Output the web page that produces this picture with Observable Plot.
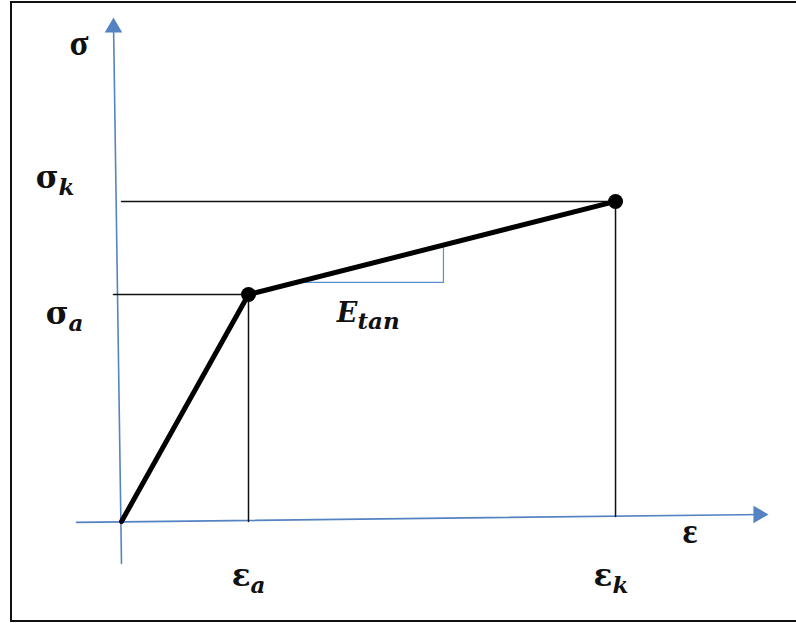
<!DOCTYPE html>
<html>
<head>
<meta charset="utf-8">
<script src="https://cdn.jsdelivr.net/npm/d3@7"></script>
<script src="https://cdn.jsdelivr.net/npm/@observablehq/plot@0.6"></script>
<style>
  html, body { margin: 0; padding: 0; background: #fff; overflow: hidden; }
  #wrap { position: relative; width: 796px; height: 623px; overflow: hidden; }
  #frame { position: absolute; left: 10px; top: 1px; width: 1000px; height: 617px; border: 2px solid #111; border-right: none; pointer-events: none; }
</style>
</head>
<body>
<div id="wrap"><div id="frame"></div></div>
<script>
// Key points of the bilinear stress-strain curve (origin, point a, point k)
const strain = [0, 1, 3.89];
const stress = [0, 1, 1.41];

// Axis lines (slightly tilted in the original drawing)
const xAxisX = [-0.354, 5.055];
const xAxisY = [-0.004, 0.031];
const yAxisX = [0, -0.063];
const yAxisY = [-0.185, 2.198];

// Tangent-slope triangle (E_tan)
const tanX = [1.37, 2.535, 2.535];
const tanY = [1.053, 1.053, 1.218];

// Labels: base text, subscript, anchor (x, y)
const labelBase = ["σ", "ε", "σ", "σ", "E", "ε", "ε"];
const labelSub  = ["", "", "k", "a", "tan", "a", "k"];
const labelX    = [-0.26, 4.535, -0.496, -0.417, 1.858, 1.016, 3.866];
const labelY    = [2.053, -0.093, 1.471, 0.872, 0.877, -0.282, -0.282];

const W = 796, H = 623;
const ox = 121, sx = 127, oy = 521, sy = 227;

const curve = strain.map((x, i) => ({x, y: stress[i]}));
const pa = curve[1], pk = curve[2];
const labels = labelBase.map((t, i) => ({t, s: labelSub[i], x: labelX[i], y: labelY[i], i}));
const plainLabels = labels.filter(d => d.s === "");
const greekSub = labels.filter(d => d.s !== "" && d.t !== "E");
const latinSub = labels.filter(d => d.t === "E");
const subLabels = labels.filter(d => d.s !== "");

const axisBlue = "#5583c2";

const chart = Plot.plot({
  width: W, height: H,
  margin: 0,
  x: {domain: [-ox / sx, (W - ox) / sx], axis: null},
  y: {domain: [(oy - H) / sy, oy / sy], axis: null},
  style: {background: "transparent"},
  marks: [
    // axes
    Plot.line(xAxisX.map((x, i) => ({x, y: xAxisY[i]})), {x: "x", y: "y", stroke: axisBlue, strokeWidth: 1.6}),
    Plot.line(yAxisX.map((x, i) => ({x, y: yAxisY[i]})), {x: "x", y: "y", stroke: axisBlue, strokeWidth: 1.6}),
    Plot.dot([{x: xAxisX[1], y: xAxisY[1]}], {x: "x", y: "y", symbol: "triangle", r: 6.5, rotate: 90, fill: axisBlue, stroke: null, dx: -5}),
    Plot.dot([{x: yAxisX[1], y: yAxisY[1]}], {x: "x", y: "y", symbol: "triangle", r: 6.5, fill: axisBlue, stroke: null, dy: 5}),
    // guide lines
    Plot.line([{x: 0, y: pk.y}, {x: pk.x, y: pk.y}], {x: "x", y: "y", stroke: "#111", strokeWidth: 1.5}),
    Plot.line([{x: yAxisX[1], y: pa.y}, {x: pa.x, y: pa.y}], {x: "x", y: "y", stroke: "#111", strokeWidth: 1.5}),
    Plot.line([{x: pa.x, y: pa.y}, {x: pa.x, y: 0}], {x: "x", y: "y", stroke: "#111", strokeWidth: 1.5}),
    Plot.line([{x: pk.x, y: pk.y}, {x: pk.x, y: 0.022}], {x: "x", y: "y", stroke: "#111", strokeWidth: 1.5}),
    // tangent triangle
    Plot.line(tanX.map((x, i) => ({x, y: tanY[i]})), {x: "x", y: "y", stroke: "#5b8fd0", strokeWidth: 1.2}),
    // stress-strain curve
    Plot.line(curve, {x: "x", y: "y", stroke: "#000", strokeWidth: 5, strokeLinejoin: "round"}),
    Plot.dot([pa, pk], {x: "x", y: "y", r: 7.5, fill: "#000", stroke: null}),
    // labels
    Plot.text(plainLabels, {x: "x", y: "y", text: "t", textAnchor: "end", lineAnchor: "bottom",
      fontFamily: "Liberation Serif", fontWeight: "bold", fontSize: 35, fill: "#111"}),
    Plot.text(greekSub, {x: "x", y: "y", text: "t", textAnchor: "end", lineAnchor: "bottom",
      fontFamily: "DejaVu Serif", fontWeight: "bold", fontSize: 31, fill: "#111"}),
    Plot.text(latinSub, {x: "x", y: "y", text: "t", textAnchor: "end", lineAnchor: "bottom",
      fontFamily: "DejaVu Serif", fontWeight: "bold", fontStyle: "italic", fontSize: 27, fill: "#111"}),
    Plot.text(subLabels, {x: "x", y: "y", text: "s", textAnchor: "start", lineAnchor: "bottom", dy: 7,
      fontFamily: "DejaVu Serif", fontWeight: "bold", fontStyle: "italic", fontSize: 23, fill: "#111"})
  ]
});
document.getElementById("wrap").prepend(chart);
</script>
</body>
</html>
